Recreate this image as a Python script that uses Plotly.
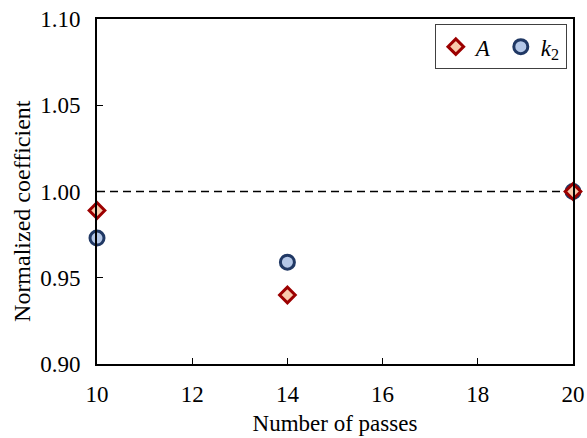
import plotly.graph_objects as go

# Normalized coefficients versus number of passes
passes = [10, 14, 20]
coef_A = [0.989, 0.940, 1.000]
coef_k2 = [0.973, 0.959, 1.000]

x_ticks = [10, 12, 14, 16, 18, 20]
y_ticks = [0.90, 0.95, 1.00, 1.05, 1.10]
reference_level = 1.0

serif = "Liberation Serif"

fig = go.Figure()

fig.add_trace(go.Scatter(
    x=[passes[0], passes[-1]], y=[reference_level, reference_level],
    mode="lines", line=dict(color="black", width=1.5, dash="8px,5px"),
    showlegend=False, hoverinfo="skip",
))

fig.add_trace(go.Scatter(
    x=passes, y=coef_k2, mode="markers", name="<i>k</i><sub>2</sub>",
    cliponaxis=False,
    marker=dict(symbol="circle", size=14, color="#B4C7E7",
                line=dict(color="#203864", width=3)),
))

fig.add_trace(go.Scatter(
    x=passes, y=coef_A, mode="markers", name="<i>A</i>",
    cliponaxis=False,
    marker=dict(symbol="diamond", size=12, color="#F8CBAD",
                line=dict(color="#9C0000", width=3)),
))

fig.update_layout(
    width=587, height=438,
    margin=dict(l=97, r=14, t=19, b=74),
    plot_bgcolor="white", paper_bgcolor="white",
    font=dict(family=serif, size=23, color="black"),
    legend=dict(
        orientation="h", x=0.987, xanchor="right", y=0.985, yanchor="top",
        bordercolor="#404040", borderwidth=1, bgcolor="white",
        font=dict(family=serif, size=23), traceorder="reversed",
        itemwidth=30, tracegroupgap=0, entrywidth=20, entrywidthmode="pixels",
    ),
    xaxis=dict(
        range=[10, 20], tickvals=x_ticks, ticks="inside", ticklen=6,
        tickwidth=1.2, tickcolor="black", ticklabelstandoff=8,
        showline=True, linecolor="black", linewidth=2, mirror=True,
        showgrid=False, zeroline=False, automargin=False,
        title=dict(text="Number of passes", font=dict(size=23), standoff=9),
    ),
    yaxis=dict(
        range=[0.90, 1.10], tickvals=y_ticks, tickformat=".2f",
        ticks="inside", ticklen=6, tickwidth=1.2, tickcolor="black",
        ticklabelstandoff=10, automargin=False,
        showline=True, linecolor="black", linewidth=2, mirror=True,
        showgrid=False, zeroline=False,
    ),
    annotations=[dict(
        text="Normalized coefficient", textangle=-90,
        xref="paper", yref="paper", x=-0.158, y=0.443,
        xanchor="center", yanchor="middle", showarrow=False,
        font=dict(family=serif, size=24),
    )],
)

fig.write_html("out.html")
